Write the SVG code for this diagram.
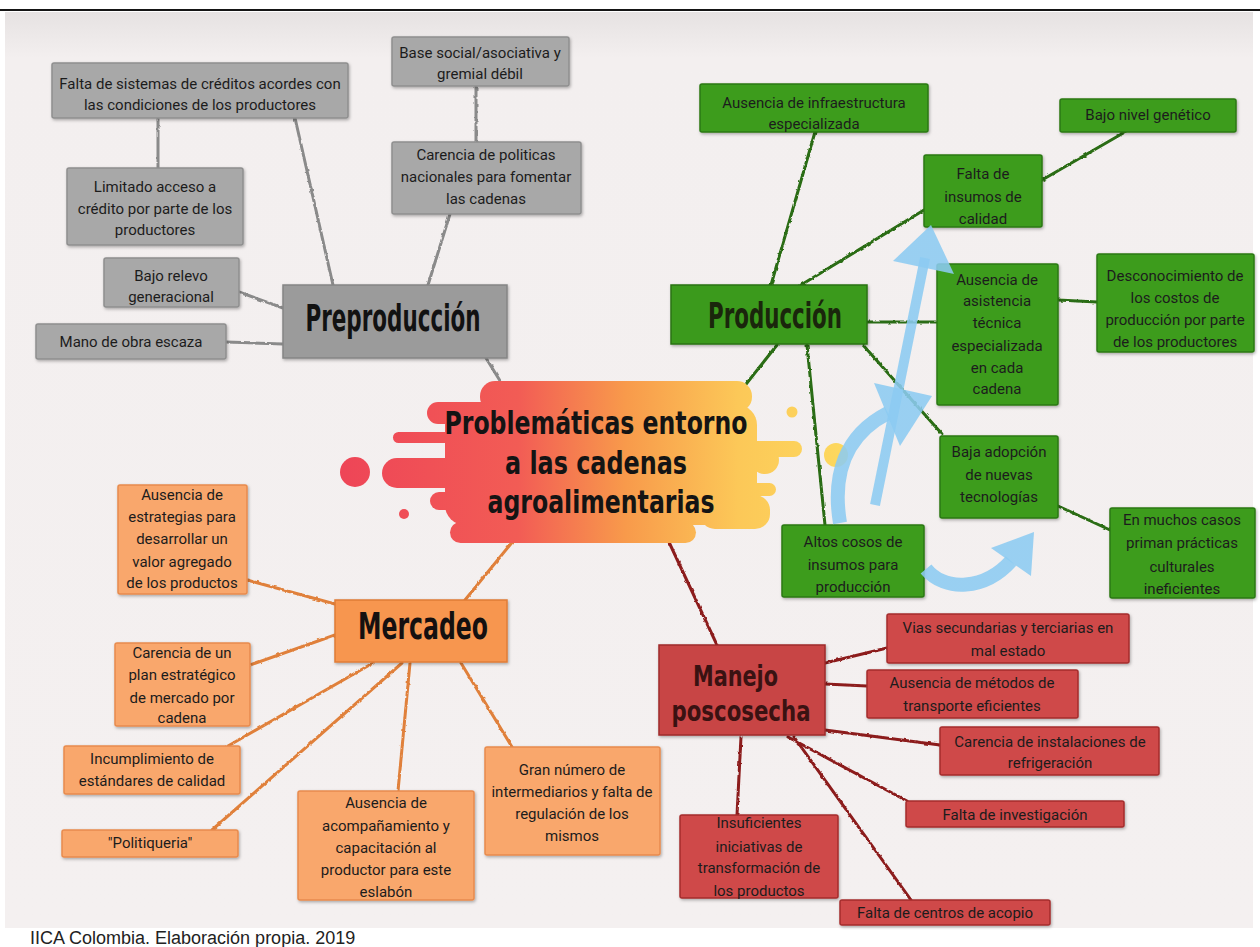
<svg xmlns="http://www.w3.org/2000/svg" width="1260" height="947" viewBox="0 0 1260 947">
<defs>
<linearGradient id="bgGrad" x1="0" y1="0" x2="0" y2="1">
<stop offset="0" stop-color="#e6e2e2"/>
<stop offset="0.05" stop-color="#f3efef"/>
<stop offset="1" stop-color="#f4f0f0"/>
</linearGradient>
<linearGradient id="blobGrad" gradientUnits="userSpaceOnUse" x1="340" y1="0" x2="850" y2="0">
<stop offset="0" stop-color="#ee4557"/>
<stop offset="0.35" stop-color="#f25c55"/>
<stop offset="0.56" stop-color="#f89a4b"/>
<stop offset="0.78" stop-color="#fcc858"/>
<stop offset="1" stop-color="#fdd95e"/>
</linearGradient>
<filter id="shadow" x="-10%" y="-10%" width="120%" height="130%">
<feDropShadow dx="1" dy="1.5" stdDeviation="1.4" flood-color="#000" flood-opacity="0.3"/>
</filter>
<filter id="rough" x="-5%" y="-5%" width="110%" height="110%">
<feTurbulence type="fractalNoise" baseFrequency="0.25" numOctaves="1" seed="3" result="n"/>
<feDisplacementMap in="SourceGraphic" in2="n" scale="3" xChannelSelector="R" yChannelSelector="G"/>
</filter>
<style>
.t{font-family:Roboto,"Liberation Sans",Arial,sans-serif;font-size:15px;text-anchor:middle;fill:#1c1c1c}
.h{font-family:"DejaVu Sans Condensed","DejaVu Sans",sans-serif;font-weight:bold;text-anchor:middle}
.gb{fill:#a8a8a8;stroke:#8f8f8f;stroke-width:1.5}
.gn{fill:#3c9c1e;stroke:#2b7812;stroke-width:1.5}
.ob{fill:#f9a76c;stroke:#e88b4e;stroke-width:1.5}
.rb{fill:#cf4949;stroke:#a52d2d;stroke-width:1.5}
.cg{stroke:#8a8a8a;stroke-width:3;fill:none;stroke-linecap:round}
.cn{stroke:#2a6c12;stroke-width:3;fill:none;stroke-linecap:round}
.co{stroke:#e0803a;stroke-width:3;fill:none;stroke-linecap:round}
.cr{stroke:#8c1b1b;stroke-width:3;fill:none;stroke-linecap:round}
.blue{fill:#8ccbf1;opacity:0.88}
.blueS{stroke:#8ccbf1;fill:none;opacity:0.88}
</style>
</defs>

<rect x="0" y="0" width="1260" height="947" fill="#ffffff"/>
<rect x="5" y="12" width="1248" height="916" fill="url(#bgGrad)"/>
<rect x="0" y="9" width="1260" height="2" fill="#151515"/>

<g id="connectors" filter="url(#rough)">
<line class="cg" x1="158" y1="118" x2="158" y2="168"/>
<line class="cg" x1="295" y1="118" x2="333" y2="285"/>
<line class="cg" x1="476" y1="86" x2="476" y2="142"/>
<line class="cg" x1="450" y1="214" x2="428" y2="285"/>
<line class="cg" x1="239" y1="292" x2="283" y2="308"/>
<line class="cg" x1="226" y1="342" x2="283" y2="344"/>
<line class="cg" x1="486" y1="358" x2="502" y2="384"/>
<line class="cn" x1="815" y1="132" x2="771" y2="285"/>
<line class="cn" x1="924" y1="210" x2="801" y2="285"/>
<line class="cn" x1="1042" y1="180" x2="1125" y2="132"/>
<line class="cn" x1="867" y1="322" x2="937" y2="322"/>
<line class="cn" x1="1058" y1="300" x2="1097" y2="302"/>
<line class="cn" x1="863" y1="345" x2="942" y2="434"/>
<line class="cn" x1="807" y1="345" x2="825" y2="525"/>
<line class="cn" x1="777" y1="345" x2="743" y2="388"/>
<line class="cn" x1="1058" y1="506" x2="1110" y2="530"/>
<line class="co" x1="247" y1="580" x2="335" y2="604"/>
<line class="co" x1="250" y1="665" x2="335" y2="635"/>
<line class="co" x1="228" y1="746" x2="373" y2="663"/>
<line class="co" x1="212" y1="830" x2="402" y2="663"/>
<line class="co" x1="398" y1="791" x2="410" y2="663"/>
<line class="co" x1="512" y1="747" x2="461" y2="663"/>
<line class="co" x1="465" y1="600" x2="514" y2="540"/>
<line class="cr" x1="668" y1="540" x2="717" y2="645"/>
<line class="cr" x1="825" y1="663" x2="887" y2="648"/>
<line class="cr" x1="825" y1="684" x2="867" y2="686"/>
<line class="cr" x1="825" y1="730" x2="940" y2="745"/>
<line class="cr" x1="788" y1="737" x2="907" y2="801"/>
<line class="cr" x1="794" y1="737" x2="911" y2="900"/>
<line class="cr" x1="741" y1="737" x2="737" y2="815"/>
</g>

<g id="center" fill="url(#blobGrad)">
<rect x="480" y="381" width="272" height="31" rx="15"/>
<rect x="427" y="402" width="110" height="22" rx="11"/>
<rect x="393" y="432" width="80" height="11" rx="5.5"/>
<rect x="445" y="405" width="312" height="120" rx="20"/>
<rect x="382" y="458" width="140" height="30" rx="15"/>
<rect x="430" y="492" width="80" height="18" rx="9"/>
<rect x="450" y="522" width="246" height="21" rx="10.5"/>
<rect x="700" y="441" width="102" height="16" rx="8"/>
<circle cx="765" cy="460" r="14"/>
<circle cx="836" cy="455" r="12"/>
<rect x="700" y="483" width="76" height="13" rx="6.5"/>
<rect x="700" y="495" width="70" height="34" rx="15"/>
<circle cx="355" cy="472" r="15"/>
<circle cx="404" cy="514" r="5"/>
<circle cx="792" cy="412" r="5.5"/>
<text class="h" font-size="32" fill="#141414">
<tspan x="601" y="434" textLength="303" lengthAdjust="spacingAndGlyphs">Problemáticas entorno</tspan>
<tspan x="601" y="474" textLength="182" lengthAdjust="spacingAndGlyphs">a las cadenas</tspan>
<tspan x="601" y="513" textLength="227" lengthAdjust="spacingAndGlyphs">agroalimentarias</tspan>
</text>
</g>

<g id="preproduccion">
<rect x="283" y="285" width="224" height="73" fill="#9b9b9b" stroke="#858585" stroke-width="1.5" filter="url(#shadow)"/>
<text class="h" x="393" y="331" font-size="38" fill="#121212" textLength="175" lengthAdjust="spacingAndGlyphs">Preproducción</text>
</g>
<g id="pre-base">
<rect class="gb" x="392" y="37" width="177" height="49" rx="2" filter="url(#shadow)"/>
<text class="t" x="480" y="58">Base social/asociativa y</text>
<text class="t" x="480" y="79">gremial débil</text>
</g>
<g id="pre-falta">
<rect class="gb" x="52" y="63" width="296" height="55" rx="2" filter="url(#shadow)"/>
<text class="t" x="200" y="89">Falta de sistemas de créditos acordes con</text>
<text class="t" x="200" y="110">las condiciones de los productores</text>
</g>
<g id="pre-carencia">
<rect class="gb" x="392" y="142" width="189" height="72" rx="2" filter="url(#shadow)"/>
<text class="t" x="486" y="160">Carencia de politicas</text>
<text class="t" x="486" y="182">nacionales para fomentar</text>
<text class="t" x="486" y="204">las cadenas</text>
</g>
<g id="pre-limitado">
<rect class="gb" x="67" y="168" width="176" height="77" rx="2" filter="url(#shadow)"/>
<text class="t" x="155" y="192">Limitado acceso a</text>
<text class="t" x="155" y="214">crédito por parte de los</text>
<text class="t" x="155" y="235">productores</text>
</g>
<g id="pre-relevo">
<rect class="gb" x="104" y="258" width="135" height="49" rx="2" filter="url(#shadow)"/>
<text class="t" x="171" y="281">Bajo relevo</text>
<text class="t" x="171" y="302">generacional</text>
</g>
<g id="pre-mano">
<rect class="gb" x="36" y="324" width="190" height="35" rx="2" filter="url(#shadow)"/>
<text class="t" x="131" y="347">Mano de obra escaza</text>
</g>

<g id="produccion">
<rect x="671" y="285" width="196" height="59" fill="#3a9a1c" stroke="#2a7210" stroke-width="1.5" filter="url(#shadow)"/>
<text class="h" x="775" y="328" font-size="36" fill="#1a260c" textLength="134" lengthAdjust="spacingAndGlyphs">Producción</text>
</g>
<g id="pro-infra">
<rect class="gn" x="700" y="84" width="228" height="48" rx="2" filter="url(#shadow)"/>
<text class="t" x="814" y="108">Ausencia de infraestructura</text>
<text class="t" x="814" y="129">especializada</text>
</g>
<g id="pro-genetico">
<rect class="gn" x="1060" y="99" width="176" height="33" rx="2" filter="url(#shadow)"/>
<text class="t" x="1148" y="120">Bajo nivel genético</text>
</g>
<g id="pro-insumos">
<rect class="gn" x="924" y="155" width="118" height="72" rx="2" filter="url(#shadow)"/>
<text class="t" x="983" y="179">Falta de</text>
<text class="t" x="983" y="202">insumos de</text>
<text class="t" x="983" y="224">calidad</text>
</g>
<g id="pro-asistencia">
<rect class="gn" x="937" y="264" width="121" height="141" rx="2" filter="url(#shadow)"/>
<text class="t" x="997" y="285">Ausencia de</text>
<text class="t" x="997" y="306">asistencia</text>
<text class="t" x="997" y="328">técnica</text>
<text class="t" x="997" y="351">especializada</text>
<text class="t" x="997" y="373">en cada</text>
<text class="t" x="997" y="394">cadena</text>
</g>
<g id="pro-costos">
<rect class="gn" x="1097" y="254" width="157" height="98" rx="2" filter="url(#shadow)"/>
<text class="t" x="1175" y="281">Desconocimiento de</text>
<text class="t" x="1175" y="303">los costos de</text>
<text class="t" x="1175" y="325">producción por parte</text>
<text class="t" x="1175" y="347">de los productores</text>
</g>
<g id="pro-adopcion">
<rect class="gn" x="940" y="436" width="118" height="82" rx="2" filter="url(#shadow)"/>
<text class="t" x="999" y="457">Baja adopción</text>
<text class="t" x="999" y="480">de nuevas</text>
<text class="t" x="999" y="502">tecnologías</text>
</g>
<g id="pro-altos">
<rect class="gn" x="782" y="525" width="142" height="72" rx="2" filter="url(#shadow)"/>
<text class="t" x="853" y="547">Altos cosos de</text>
<text class="t" x="853" y="570">insumos para</text>
<text class="t" x="853" y="592">producción</text>
</g>
<g id="pro-practicas">
<rect class="gn" x="1110" y="508" width="145" height="90" rx="2" filter="url(#shadow)"/>
<text class="t" x="1182" y="525">En muchos casos</text>
<text class="t" x="1182" y="548">priman prácticas</text>
<text class="t" x="1182" y="572">culturales</text>
<text class="t" x="1182" y="594">ineficientes</text>
</g>

<g id="flechas">
<line class="blueS" x1="875" y1="505" x2="925" y2="258" stroke-width="10"/>
<polygon class="blue" points="931,225 893,261 954,274"/>
<path class="blueS" d="M 840 523 C 832 475 845 435 888 413" stroke-width="14"/>
<polygon class="blue" points="874,383 932,396 900,446"/>
<path class="blueS" d="M 926 569 C 945 592 985 590 1011 561" stroke-width="14"/>
<polygon class="blue" points="991,548 1034,532 1031,576"/>
</g>

<g id="mercadeo">
<rect x="335" y="600" width="172" height="62" fill="#f7964f" stroke="#e07c36" stroke-width="1.5" filter="url(#shadow)"/>
<text class="h" x="423" y="639" font-size="38" fill="#151010" textLength="130" lengthAdjust="spacingAndGlyphs">Mercadeo</text>
</g>
<g id="mer-estrategias">
<rect class="ob" x="118" y="485" width="129" height="109" rx="2" filter="url(#shadow)"/>
<text class="t" x="182" y="500">Ausencia de</text>
<text class="t" x="182" y="522">estrategias para</text>
<text class="t" x="182" y="544">desarrollar un</text>
<text class="t" x="182" y="567">valor agregado</text>
<text class="t" x="182" y="588">de los productos</text>
</g>
<g id="mer-plan">
<rect class="ob" x="115" y="643" width="135" height="83" rx="2" filter="url(#shadow)"/>
<text class="t" x="182" y="658">Carencia de un</text>
<text class="t" x="182" y="680">plan estratégico</text>
<text class="t" x="182" y="703">de mercado por</text>
<text class="t" x="182" y="723">cadena</text>
</g>
<g id="mer-estandares">
<rect class="ob" x="64" y="746" width="176" height="48" rx="2" filter="url(#shadow)"/>
<text class="t" x="152" y="764">Incumplimiento de</text>
<text class="t" x="152" y="786">estándares de calidad</text>
</g>
<g id="mer-politiqueria">
<rect class="ob" x="62" y="830" width="176" height="27" rx="2" filter="url(#shadow)"/>
<text class="t" x="150" y="848">"Politiqueria"</text>
</g>
<g id="mer-acompanamiento">
<rect class="ob" x="298" y="791" width="176" height="109" rx="2" filter="url(#shadow)"/>
<text class="t" x="386" y="808">Ausencia de</text>
<text class="t" x="386" y="831">acompañamiento y</text>
<text class="t" x="386" y="853">capacitación al</text>
<text class="t" x="386" y="875">productor para este</text>
<text class="t" x="386" y="897">eslabón</text>
</g>
<g id="mer-intermediarios">
<rect class="ob" x="485" y="747" width="175" height="108" rx="2" filter="url(#shadow)"/>
<text class="t" x="572" y="775">Gran número de</text>
<text class="t" x="572" y="797">intermediarios y falta de</text>
<text class="t" x="572" y="819">regulación de los</text>
<text class="t" x="572" y="841">mismos</text>
</g>

<g id="poscosecha">
<rect x="659" y="645" width="166" height="90" fill="#c84545" stroke="#9e2a2a" stroke-width="1.5" filter="url(#shadow)"/>
<text class="h" font-size="29" fill="#3a1212">
<tspan x="740" y="686" textLength="85" lengthAdjust="spacingAndGlyphs">Manejo</tspan>
<tspan x="741" y="721" textLength="139" lengthAdjust="spacingAndGlyphs">poscosecha</tspan>
</text>
</g>
<g id="pos-vias">
<rect class="rb" x="887" y="614" width="242" height="49" rx="2" filter="url(#shadow)"/>
<text class="t" x="1008" y="633">Vias secundarias y terciarias en</text>
<text class="t" x="1008" y="656">mal estado</text>
</g>
<g id="pos-transporte">
<rect class="rb" x="867" y="670" width="211" height="48" rx="2" filter="url(#shadow)"/>
<text class="t" x="972" y="688">Ausencia de métodos de</text>
<text class="t" x="972" y="711">transporte eficientes</text>
</g>
<g id="pos-refrigeracion">
<rect class="rb" x="940" y="727" width="219" height="48" rx="2" filter="url(#shadow)"/>
<text class="t" x="1050" y="747">Carencia de instalaciones de</text>
<text class="t" x="1050" y="768">refrigeración</text>
</g>
<g id="pos-investigacion">
<rect class="rb" x="906" y="801" width="218" height="26" rx="2" filter="url(#shadow)"/>
<text class="t" x="1015" y="820">Falta de investigación</text>
</g>
<g id="pos-transformacion">
<rect class="rb" x="680" y="815" width="158" height="83" rx="2" filter="url(#shadow)"/>
<text class="t" x="759" y="828">Insuficientes</text>
<text class="t" x="759" y="852">iniciativas de</text>
<text class="t" x="759" y="873">transformación de</text>
<text class="t" x="759" y="896">los productos</text>
</g>
<g id="pos-acopio">
<rect class="rb" x="840" y="900" width="210" height="25" rx="2" filter="url(#shadow)"/>
<text class="t" x="945" y="918">Falta de centros de acopio</text>
</g>

<text x="30" y="944" font-family="'Liberation Sans',Arial,sans-serif" font-size="18" fill="#222">IICA Colombia. Elaboración propia. 2019</text>
</svg>
